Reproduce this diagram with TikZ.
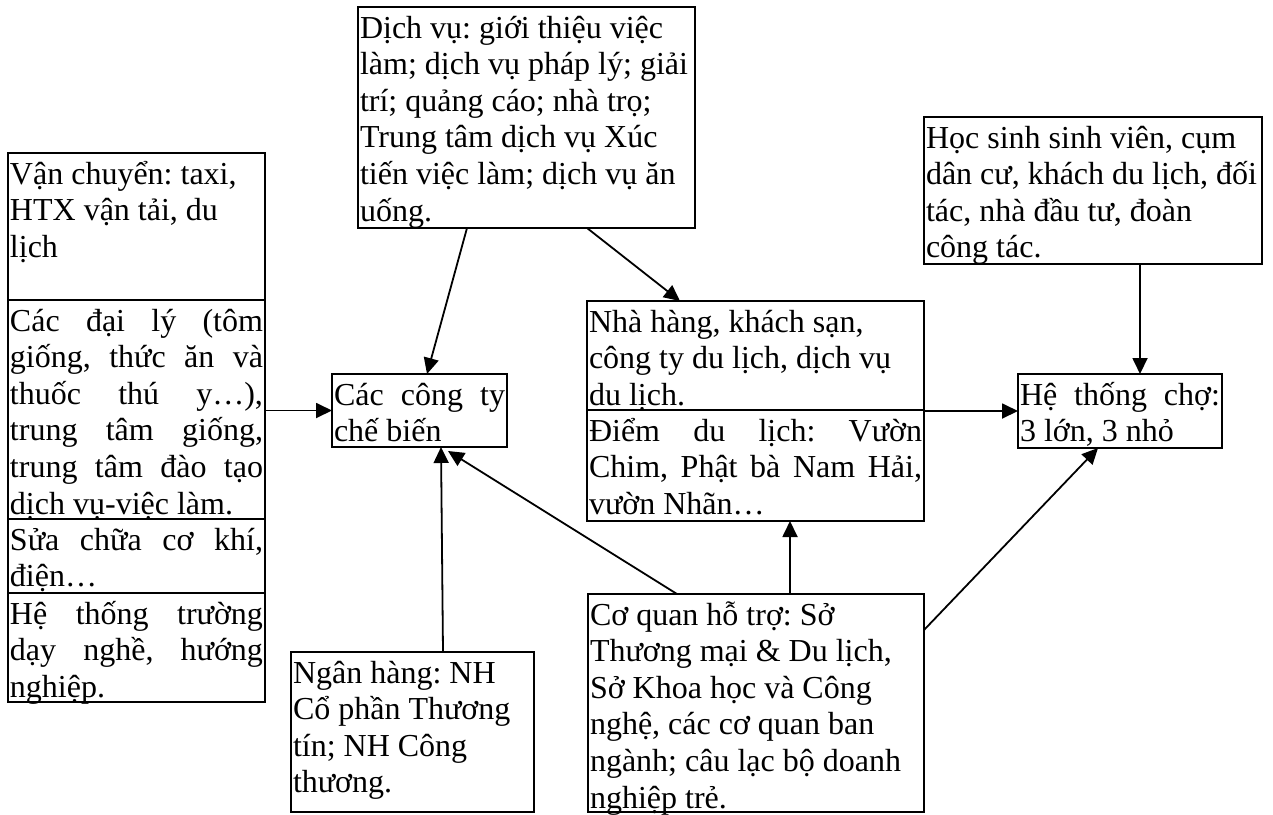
\documentclass[tikz,border=0pt]{standalone}
\usepackage{fontspec}
\setmainfont{Liberation Serif}
\usetikzlibrary{arrows.meta}
\frenchspacing

\newcommand{\boxtext}[3]{\parbox[c][#2][t]{\dimexpr#1-2pt\relax}{\fontsize{16}{18.3}\selectfont\lineskiplimit=-20pt\rule{0pt}{15.5pt}#3}}
\newcommand{\jline}[1]{\makebox[\linewidth][s]{#1}}

\tikzset{
box/.style={draw, line width=1pt, inner xsep=1pt, inner ysep=0pt, outer sep=0pt, anchor=north west},
arr/.style={-{Triangle[length=8pt,width=7.5pt]}, line width=0.9pt}
}

\begin{document}
\begin{tikzpicture}[x=0.5pt, y=-0.5pt]
\useasboundingbox (0,0) rectangle (1273,814);
% left column
\node[box] (vanchuyen) at (8,153) {\boxtext{128.5pt}{73.5pt}{Vận chuyển: taxi,\\HTX vận tải, du\\lịch}};
\node[box] (daily) at (vanchuyen.south west) {\boxtext{128.5pt}{109.5pt}{\jline{Các đại lý (tôm}\\\jline{giống, thức ăn và}\\\jline{thuốc thú y…),}\\\jline{trung tâm giống,}\\\jline{trung tâm đào tạo}\\dịch vụ-việc làm.}};
\node[box] (suachua) at (daily.south west) {\boxtext{128.5pt}{37pt}{\jline{Sửa chữa cơ khí,}\\điện…}};
\node[box] (truong) at (suachua.south west) {\boxtext{128.5pt}{54.5pt}{\jline{Hệ thống trường}\\\jline{dạy nghề, hướng}\\nghiệp.}};
% middle
\node[box] (dichvu) at (358,7) {\boxtext{168.5pt}{110.5pt}{Dịch vụ: giới thiệu việc\\làm; dịch vụ pháp lý; giải\\trí; quảng cáo; nhà trọ;\\Trung tâm dịch vụ Xúc\\tiến việc làm; dịch vụ ăn\\uống.}};
\node[box] (congty) at (332,374) {\boxtext{87.5pt}{36.5pt}{\jline{Các công ty}\\chế biến}};
\node[box] (nganhang) at (291,652) {\boxtext{121.5pt}{80pt}{Ngân hàng: NH\\Cổ phần Thương\\tín; NH Công\\thương.}};
\node[box] (nhahang) at (587,301) {\boxtext{168.5pt}{54.5pt}{Nhà hàng, khách sạn,\\công ty du lịch, dịch vụ\\du lịch.}};
\node[box] (diem) at (nhahang.south west) {\boxtext{168.5pt}{55.5pt}{\jline{Điểm du lịch: Vườn}\\\jline{Chim, Phật bà Nam Hải,}\\vườn Nhãn…}};
\node[box] (coquan) at (588,594) {\boxtext{168pt}{109pt}{Cơ quan hỗ trợ: Sở\\Thương mại \& Du lịch,\\Sở Khoa học và Công\\nghệ, các cơ quan ban\\ngành; câu lạc bộ doanh\\nghiệp trẻ.}};
% right
\node[box] (hocsinh) at (924,117) {\boxtext{169pt}{73.5pt}{Học sinh sinh viên, cụm\\dân cư, khách du lịch, đối\\tác, nhà đầu tư, đoàn\\công tác.}};
\node[box] (cho) at (1018,374) {\boxtext{102pt}{37pt}{\jline{Hệ thống chợ:}\\3 lớn, 3 nhỏ}};
% arrows
\draw[arr] (congty.west -| daily.east) -- (congty.west);
\draw[arr] ([xshift=54.5pt]dichvu.south west) -- ([xshift=47.5pt]congty.north west);
\draw[arr] ([xshift=114.5pt]dichvu.south west) -- ([xshift=46.5pt]nhahang.north west);
\draw[arr] (cho.west -| nhahang.south east) -- (cho.west);
\draw[arr] ([xshift=108pt]hocsinh.south west) -- ([xshift=61pt]cho.north west);
\draw[arr] ([yshift=-18pt]coquan.north east) -- ([xshift=40pt]cho.south west);
\coordinate (q) at ([xshift=101pt]coquan.north west);
\draw[arr] (q) -- (q |- diem.south);
\draw[arr] ([xshift=44.5pt]coquan.north west) -- ([xshift=58pt,yshift=-2pt]congty.south west);
\draw[arr] ([xshift=76pt]nganhang.north west) -- ([xshift=54.5pt]congty.south west);
\end{tikzpicture}
\end{document}
